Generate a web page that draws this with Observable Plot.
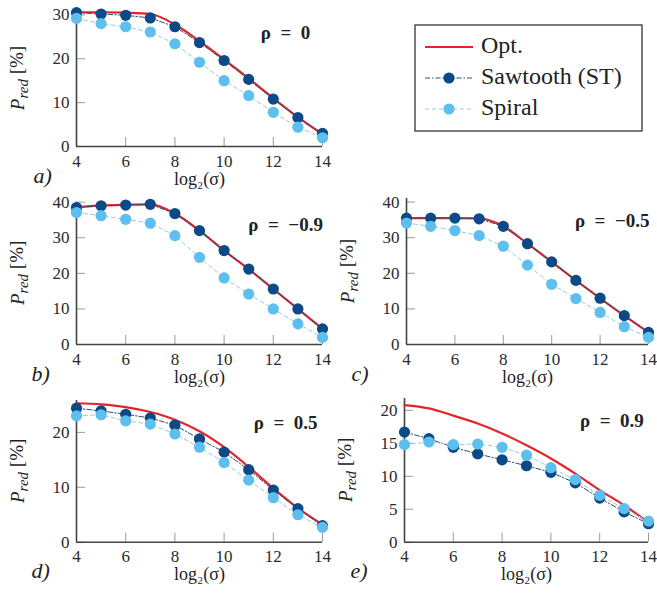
<!DOCTYPE html>
<html><head><meta charset="utf-8">
<script src="https://cdn.jsdelivr.net/npm/d3@7"></script>
<script src="https://cdn.jsdelivr.net/npm/@observablehq/plot@0.6"></script>
<style>
body{margin:0;background:#fff;}
#root{position:relative;width:657px;height:596px;overflow:hidden;font-family:'Liberation Serif';background:#fff;}
.panel{position:absolute;}
.panel svg{overflow:visible;display:block;}
</style></head><body><div id="root"></div>
<script>
// ---------- data ----------
const sigma = [4,5,6,7,8,9,10,11,12,13,14];
const xTicks = [4,6,8,10,12,14];
const seriesNames = ["Opt.","Sawtooth (ST)","Spiral"];
const panelLetters = ["a)","b)","c)","d)","e)"];
const rhoLabels = ["ρ\u2002=\u20020","ρ\u2002=\u2002−0.9","ρ\u2002=\u2002−0.5","ρ\u2002=\u20020.5","ρ\u2002=\u20020.9"];
const xLabel = "log₂(σ)";

// panel a (rho = 0)
const optA = [30.6,30.6,30.5,30.2,27.8,24.0,19.8,15.5,11.0,6.7,2.8];
const stA  = [30.5,30.2,29.9,29.3,27.3,23.7,19.6,15.3,10.8,6.6,3.0];
const spA  = [29.2,28.0,27.3,26.1,23.4,19.2,15.0,11.6,7.8,4.4,2.0];
const yTicksA = [0,10,20,30];
// panel b (rho = -0.9)
const optB = [38.6,39.1,39.3,39.4,36.8,32.0,26.4,21.2,15.6,10.0,4.4];
const stB  = [38.5,39.0,39.2,39.4,36.8,32.0,26.4,21.2,15.6,10.0,4.4];
const spB  = [37.1,36.2,35.2,34.1,30.6,24.5,18.7,14.2,10.0,5.8,2.0];
const yTicksB = [0,10,20,30,40];
// panel c (rho = -0.5)
const optC = [35.5,35.5,35.5,35.4,33.2,28.3,23.2,18.0,13.0,8.1,3.4];
const stC  = [35.5,35.5,35.5,35.3,33.2,28.3,23.2,18.0,13.0,8.1,3.4];
const spC  = [34.1,33.2,32.0,30.6,27.6,22.3,16.9,12.9,9.0,5.0,2.0];
const yTicksC = [0,10,20,30,40];
// panel d (rho = 0.5)
const optD = [25.3,25.1,24.6,23.7,22.3,20.2,17.3,13.7,9.8,6.2,3.2];
const stD  = [24.4,23.9,23.3,22.6,21.3,18.8,16.4,13.2,9.5,6.1,3.0];
const spD  = [23.0,23.2,22.1,21.5,19.7,17.3,14.5,11.3,8.1,5.0,2.7];
const yTicksD = [0,10,20];
// panel e (rho = 0.9)
const optE = [20.8,20.3,19.2,18.0,16.5,14.7,12.7,10.4,7.9,5.6,3.0];
const stE  = [16.7,15.7,14.4,13.4,12.5,11.6,10.6,9.0,6.7,4.6,2.8];
const spE  = [14.8,15.2,14.8,14.9,14.4,13.2,11.3,9.5,7.1,5.1,3.2];
const yTicksE = [0,5,10,15,20];

// ---------- styles ----------
const RED = "#e2252b", DARK = "#0b4a86", LIGHT = "#5cbfee";
const DARKLINE = "#2a4f78", LIGHTLINE = "#9cc9de";
const FONT = "Liberation Serif";

const panels = [
  {opt:optA, st:stA, sp:spA, yTicks:yTicksA, ymax:31,   left:0,   top:0,   w:330, h:195, ml:76, mr:8, mt:10, mb:49,   letterDx:-43, i:0},
  {opt:optB, st:stB, sp:spB, yTicks:yTicksB, ymax:40,   left:0,   top:195, w:330, h:195, ml:76, mr:8, mt:6.7, mb:46,  letterDx:-45, i:1},
  {opt:optC, st:stC, sp:spC, yTicks:yTicksC, ymax:41,   left:330, top:195, w:327, h:195, ml:76, mr:9, mt:3, mb:46,    letterDx:-55, i:2},
  {opt:optD, st:stD, sp:spD, yTicks:yTicksD, ymax:25.8, left:0,   top:390, w:330, h:206, ml:76, mr:8, mt:10, mb:54.3, letterDx:-45, i:3},
  {opt:optE, st:stE, sp:spE, yTicks:yTicksE, ymax:21.8, left:330, top:390, w:327, h:206, ml:74, mr:9, mt:8, mb:54.3,  letterDx:-54, i:4},
];

const root = document.getElementById("root");

for (const cfg of panels) {
  const rows = arr => sigma.map((s, k) => ({s, v: arr[k]}));
  const pw = cfg.w - cfg.ml - cfg.mr, ph = cfg.h - cfg.mt - cfg.mb;
  const svg = Plot.plot({
    width: cfg.w, height: cfg.h,
    marginLeft: cfg.ml, marginRight: cfg.mr, marginTop: cfg.mt, marginBottom: cfg.mb,
    style: {background: "transparent", overflow: "visible", fontFamily: FONT, fontSize: "17px", color: "#2a2a2a"},
    x: {domain: [4, 14], ticks: xTicks, tickSize: 0, tickPadding: 8, label: null},
    y: {domain: [0, cfg.ymax], ticks: cfg.yTicks, tickSize: 0, tickPadding: 7, label: null},
    marks: [
      Plot.tickX(xTicks, {x: d => d, insetTop: ph - 9, stroke: "#9a9a9a", strokeWidth: 1}),
      Plot.tickY(cfg.yTicks, {y: d => d, insetRight: pw - 9, stroke: "#9a9a9a", strokeWidth: 1}),
      Plot.ruleX([4], {stroke: "#444", strokeWidth: 1.6}),
      Plot.ruleY([0], {stroke: "#444", strokeWidth: 1.6}),
      Plot.line(rows(cfg.opt), {x: "s", y: "v", stroke: RED, strokeWidth: 2.2, curve: "monotone-x"}),
      Plot.line(rows(cfg.st), {x: "s", y: "v", stroke: DARKLINE, strokeWidth: 1, strokeDasharray: "5,2,1.5,2"}),
      Plot.dot(rows(cfg.st), {x: "s", y: "v", r: 5.6, fill: DARK}),
      Plot.line(rows(cfg.sp), {x: "s", y: "v", stroke: LIGHTLINE, strokeWidth: 1, strokeDasharray: "4,3"}),
      Plot.dot(rows(cfg.sp), {x: "s", y: "v", r: 5.6, fill: LIGHT}),
      Plot.text([rhoLabels[cfg.i]], {text: d => d, frameAnchor: "top", dx: 0.35 * pw, dy: 15, fontWeight: "bold", fontSize: 19, fill: "#222"}),
      Plot.text([panelLetters[cfg.i]], {text: d => d, frameAnchor: "bottom-left", dx: cfg.letterDx, dy: 36, fontStyle: "italic", fontSize: 22, fill: "#222"}),
      Plot.text([xLabel], {text: d => d, frameAnchor: "bottom", dy: 38, fontSize: 18, fill: "#222"})
    ]
  });
  d3.select(svg).selectAll("text").attr("font-family", FONT);
  // y-axis label with subscript
  const lab = d3.select(svg).append("text")
    .attr("transform", `translate(${cfg.ml - 56},${cfg.mt + ph / 2}) rotate(-90)`)
    .attr("text-anchor", "middle")
    .attr("dominant-baseline", "middle")
    .attr("font-family", FONT)
    .attr("font-size", 19)
    .attr("fill", "#222");
  lab.append("tspan").attr("font-style", "italic").text("P");
  lab.append("tspan").attr("font-style", "italic").attr("font-size", 15).attr("dy", "0.3em").text("red");
  lab.append("tspan").attr("dy", "-0.3em").text(" [%]");

  const div = document.createElement("div");
  div.className = "panel";
  div.style.left = cfg.left + "px";
  div.style.top = cfg.top + "px";
  div.appendChild(svg);
  root.appendChild(div);
}

// ---------- legend ----------
const legendColors = [
  {line: RED, width: 2.2, dash: null, dot: null},
  {line: DARKLINE, width: 1, dash: "5,2,1.5,2", dot: DARK},
  {line: LIGHTLINE, width: 1, dash: "4,3", dot: LIGHT}
];
const leg = d3.select(root).append("svg")
  .style("position", "absolute").style("left", "414px").style("top", "24px")
  .attr("width", 230).attr("height", 109);
leg.append("rect").attr("x", 1).attr("y", 1).attr("width", 227).attr("height", 106)
  .attr("fill", "#fff").attr("stroke", "#333").attr("stroke-width", 1.3);
seriesNames.forEach((name, k) => {
  const y = 23 + k * 31;
  const c = legendColors[k];
  leg.append("line").attr("x1", 11).attr("x2", 59).attr("y1", y).attr("y2", y)
    .attr("stroke", c.line).attr("stroke-width", c.width).attr("stroke-dasharray", c.dash);
  if (c.dot) leg.append("circle").attr("cx", 35).attr("cy", y).attr("r", 5.6).attr("fill", c.dot);
  leg.append("text").attr("x", 67).attr("y", y).attr("dominant-baseline", "middle")
    .attr("font-family", FONT).attr("font-size", 24).attr("fill", "#222").text(name);
});
</script></body></html>
